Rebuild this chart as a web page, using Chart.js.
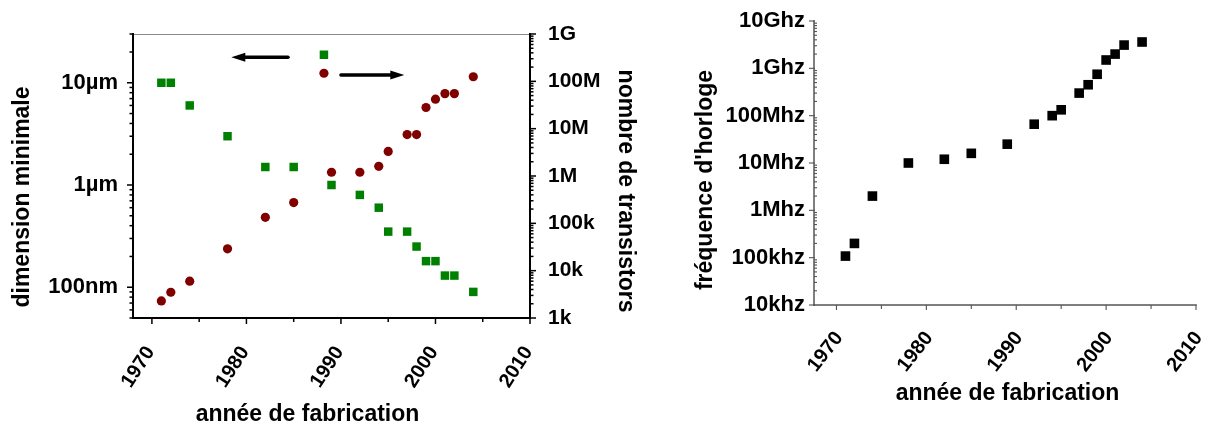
<!DOCTYPE html>
<html><head><meta charset="utf-8">
<script src="https://cdn.jsdelivr.net/npm/chart.js@4.4.1/dist/chart.umd.min.js"></script>
<style>
html,body{margin:0;padding:0;background:#fff;width:1208px;height:431px;overflow:hidden}
#w1{position:absolute;left:0;top:0;width:645px;height:431px}
#w2{position:absolute;left:660px;top:0;width:548px;height:431px}
</style></head><body>
<div id="w1"><canvas id="c1" width="645" height="431"></canvas></div>
<div id="w2"><canvas id="c2" width="548" height="431"></canvas></div>
<script>
// ---- data ----
const years = [1971,1972,1974,1978,1982,1985,1989,1992,1994,1995,1997,1998,1999,2000,2001,2002,2004];
const dimensionMicron = [10,10,6,3,1.5,1.5,1,0.8,0.6,0.35,0.35,0.25,0.18,0.18,0.13,0.13,0.09];
const transistorCount = [2300,3500,6000,29000,134000,275000,1200000,1200000,1600000,3300000,7500000,7500000,28000000,42000000,55000000,55000000,125000000];
const clockHz = [108e3,200e3,2e6,10e6,12e6,16e6,25e6,66e6,100e6,133e6,300e6,450e6,750e6,1.5e9,2e9,3.1e9,3.6e9];

const yearTicks = [1970,1980,1990,2000,2010];
const dimTickValues = [0.1,1,10];
const dimTickLabels = ['100nm','1µm','10µm'];
const transTickValues = [1e3,1e4,1e5,1e6,1e7,1e8,1e9];
const transTickLabels = ['1k','10k','100k','1M','10M','100M','1G'];
const freqTickValues = [1e4,1e5,1e6,1e7,1e8,1e9,1e10];
const freqTickLabels = ['10khz','100khz','1Mhz','10Mhz','100Mhz','1Ghz','10Ghz'];

// key markers (legend-like) with arrows pointing to their axis
const keyYear = [1988.2];
const dimKeyValue = [18.8];
const transKeyValue = [1.48e8];

const FONT = "'Liberation Sans', Arial, Helvetica, sans-serif";

function fixTicks(values){ return s => { s.ticks = values.map(v => ({value:v})); }; }
function fitW(w){ return s => { s.width = w; s.paddingTop = 0; s.paddingBottom = 0; }; }
function fitH(h){ return s => { s.height = h; s.paddingLeft = 0; s.paddingRight = 0; }; }

const decor = {
  c1: {
    axes: [
      {id:'y', side:'left', color:'#000', width:2, log:true, majOut:6, minOut:3.5, majIn:0, minIn:0},
      {id:'y2', side:'right', color:'#000', width:2, log:true, majOut:6, minOut:3.5, majIn:0, minIn:0},
      {id:'x', side:'bottom', color:'#000', width:2, step:5, majOut:6, minOut:4, majIn:0, minIn:0}
    ],
    topLine: {color:'#8a8a8a', width:1},
    titles: [
      {text:'dimension minimale', x:22.5, y:197, rot:-Math.PI/2, size:23},
      {text:'nombre de transistors', x:625, y:191, rot:Math.PI/2, size:23},
      {text:'année de fabrication', x:307.5, y:415, rot:0, size:23}
    ],
    arrows: [
      {scale:'y', from:1984.4, to:1978.4, value:17.8},
      {scale:'y2', from:1990.0, to:1996.7, value:1.36e8}
    ]
  },
  c2: {
    axes: [
      {id:'y', side:'left', color:'#555', width:1.5, log:true, majOut:5, minOut:0, majIn:1, minIn:3},
      {id:'x', side:'bottom', color:'#555', width:1.5, step:5, majOut:5, minOut:4, majIn:0, minIn:0}
    ],
    titles: [
      {text:"fréquence d'horloge", x:46, y:180, rot:-Math.PI/2, size:23},
      {text:'année de fabrication', x:347.5, y:394, rot:0, size:23}
    ],
    arrows: []
  }
};

function axisValues(sc, ax){
  const out = [];
  if (ax.log) {
    for (let e = Math.floor(Math.log10(sc.min)); Math.pow(10,e) <= sc.max*1.0001; e++) {
      for (let m = 1; m < 10; m++) {
        const v = m*Math.pow(10,e);
        if (v >= sc.min*0.9999 && v <= sc.max*1.0001) out.push({v, major: m===1});
      }
    }
  } else {
    for (let v = Math.ceil(sc.min/ax.step)*ax.step; v <= sc.max+1e-9; v += ax.step) {
      out.push({v, major: Math.abs(v/(ax.step*2) - Math.round(v/(ax.step*2))) < 1e-9});
    }
  }
  return out;
}

const decorPlugin = {
  id:'decor',
  afterDraw(chart){
    const cfg = decor[chart.canvas.id];
    if (!cfg) return;
    const ctx = chart.ctx, a = chart.chartArea;
    ctx.save();
    if (cfg.topLine) {
      ctx.strokeStyle = cfg.topLine.color; ctx.lineWidth = cfg.topLine.width;
      ctx.beginPath(); ctx.moveTo(a.left, a.top+0.5); ctx.lineTo(a.right, a.top+0.5); ctx.stroke();
    }
    for (const ax of cfg.axes) {
      const sc = chart.scales[ax.id];
      ctx.strokeStyle = ax.color; ctx.lineWidth = ax.width; ctx.lineCap = 'square';
      ctx.beginPath();
      if (ax.side === 'left') { ctx.moveTo(a.left, a.top); ctx.lineTo(a.left, a.bottom); }
      else if (ax.side === 'right') { ctx.moveTo(a.right, a.top); ctx.lineTo(a.right, a.bottom); }
      else { ctx.moveTo(a.left, a.bottom); ctx.lineTo(a.right, a.bottom); }
      ctx.stroke();
      ctx.lineCap = 'butt';
      ctx.lineWidth = Math.max(1, ax.width*0.75);
      for (const t of axisValues(sc, ax)) {
        const p = sc.getPixelForValue(t.v);
        const out = t.major ? ax.majOut : ax.minOut;
        const inn = t.major ? ax.majIn : ax.minIn;
        if (!out && !inn) continue;
        ctx.beginPath();
        if (ax.side === 'left') { ctx.moveTo(a.left - out, p); ctx.lineTo(a.left + inn, p); }
        else if (ax.side === 'right') { ctx.moveTo(a.right + out, p); ctx.lineTo(a.right - inn, p); }
        else { ctx.moveTo(p, a.bottom + out); ctx.lineTo(p, a.bottom - inn); }
        ctx.stroke();
      }
    }
    // arrows
    const xs = chart.scales.x;
    ctx.fillStyle = '#000'; ctx.strokeStyle = '#000';
    for (const ar of cfg.arrows) {
      const ys = chart.scales[ar.scale];
      const x0 = xs.getPixelForValue(ar.from), x1 = xs.getPixelForValue(ar.to);
      const y = ys.getPixelForValue(ar.value);
      const dir = Math.sign(x1 - x0), hl = 14, hw = 4.5;
      ctx.lineWidth = 3.5; ctx.lineCap = 'round';
      ctx.beginPath(); ctx.moveTo(x0, y); ctx.lineTo(x1 - dir*hl, y); ctx.stroke();
      ctx.beginPath(); ctx.moveTo(x1, y); ctx.lineTo(x1 - dir*hl, y - hw); ctx.lineTo(x1 - dir*hl, y + hw); ctx.closePath(); ctx.fill();
    }
    // titles
    ctx.fillStyle = '#000'; ctx.textAlign = 'center'; ctx.textBaseline = 'middle';
    for (const t of cfg.titles) {
      ctx.save();
      ctx.font = 'bold ' + t.size + 'px ' + FONT;
      ctx.translate(t.x, t.y); ctx.rotate(t.rot);
      ctx.fillText(t.text, 0, 0);
      ctx.restore();
    }
    ctx.restore();
  }
};

const f = (size) => ({family: FONT, size: size, weight: 'bold'});
const noGrid = {display:false, drawTicks:false, tickLength:0};
const common = {
  responsive:false, animation:false, events:[],
  plugins:{legend:{display:false}, tooltip:{enabled:false}}
};

new Chart(document.getElementById('c1'), {
  type:'scatter',
  data:{datasets:[
    {label:'dimension minimale', yAxisID:'y', data: years.map((x,i)=>({x, y: dimensionMicron[i]})),
     pointStyle:'rect', pointRadius:6, backgroundColor:'#008000', borderWidth:0},
    {label:'nombre de transistors', yAxisID:'y2', data: years.map((x,i)=>({x, y: transistorCount[i]})),
     pointStyle:'circle', pointRadius:4.6, backgroundColor:'#800000', borderWidth:0},
    {label:'clé dimension', yAxisID:'y', data: keyYear.map((x,i)=>({x, y: dimKeyValue[i]})),
     pointStyle:'rect', pointRadius:6, backgroundColor:'#008000', borderWidth:0},
    {label:'clé transistors', yAxisID:'y2', data: keyYear.map((x,i)=>({x, y: transKeyValue[i]})),
     pointStyle:'circle', pointRadius:4.6, backgroundColor:'#800000', borderWidth:0}
  ]},
  options:Object.assign({}, common, {
    layout:{padding:{top:34,left:0,right:0,bottom:0}},
    scales:{
      x:{type:'linear', position:'bottom', min:1968, max:2010,
         grid:noGrid, border:{display:false},
         afterBuildTicks: fixTicks(yearTicks), afterFit: fitH(113),
         ticks:{autoSkip:false, minRotation:57, maxRotation:57, padding:24, labelOffset:-1.5,
                color:'#000', font:f(20), callback:v=>String(v)}},
      y:{type:'logarithmic', position:'left', min:0.05, max:30,
         grid:noGrid, border:{display:false},
         afterBuildTicks: fixTicks(dimTickValues), afterFit: fitW(133),
         ticks:{autoSkip:false, padding:15, color:'#000', font:f(22), callback:(v,i)=>dimTickLabels[i]}},
      y2:{type:'logarithmic', position:'right', min:1e3, max:1e9,
         grid:noGrid, border:{display:false},
         afterBuildTicks: fixTicks(transTickValues), afterFit: fitW(115),
         ticks:{autoSkip:false, padding:18, color:'#000', font:f(21), callback:(v,i)=>transTickLabels[i]}}
    }
  }),
  plugins:[decorPlugin]
});

new Chart(document.getElementById('c2'), {
  type:'scatter',
  data:{datasets:[
    {label:"fréquence d'horloge", yAxisID:'y', data: years.map((x,i)=>({x, y: clockHz[i]})),
     pointStyle:'rect', pointRadius:6.8, backgroundColor:'#000', borderWidth:0}
  ]},
  options:Object.assign({}, common, {
    layout:{padding:{top:21,left:0,right:12,bottom:0}},
    scales:{
      x:{type:'linear', position:'bottom', min:1967.5, max:2010,
         grid:noGrid, border:{display:false},
         afterBuildTicks: fixTicks(yearTicks), afterFit: fitH(126),
         ticks:{autoSkip:false, minRotation:52, maxRotation:52, padding:22, labelOffset:2.8,
                color:'#000', font:f(20), callback:v=>String(v)}},
      y:{type:'logarithmic', position:'left', min:1e4, max:1e10,
         grid:noGrid, border:{display:false},
         afterBuildTicks: fixTicks(freqTickValues), afterFit: fitW(154),
         ticks:{autoSkip:false, padding:9, color:'#000', font:f(22), callback:(v,i)=>freqTickLabels[i]}}
    }
  }),
  plugins:[decorPlugin]
});
</script>
</body></html>
